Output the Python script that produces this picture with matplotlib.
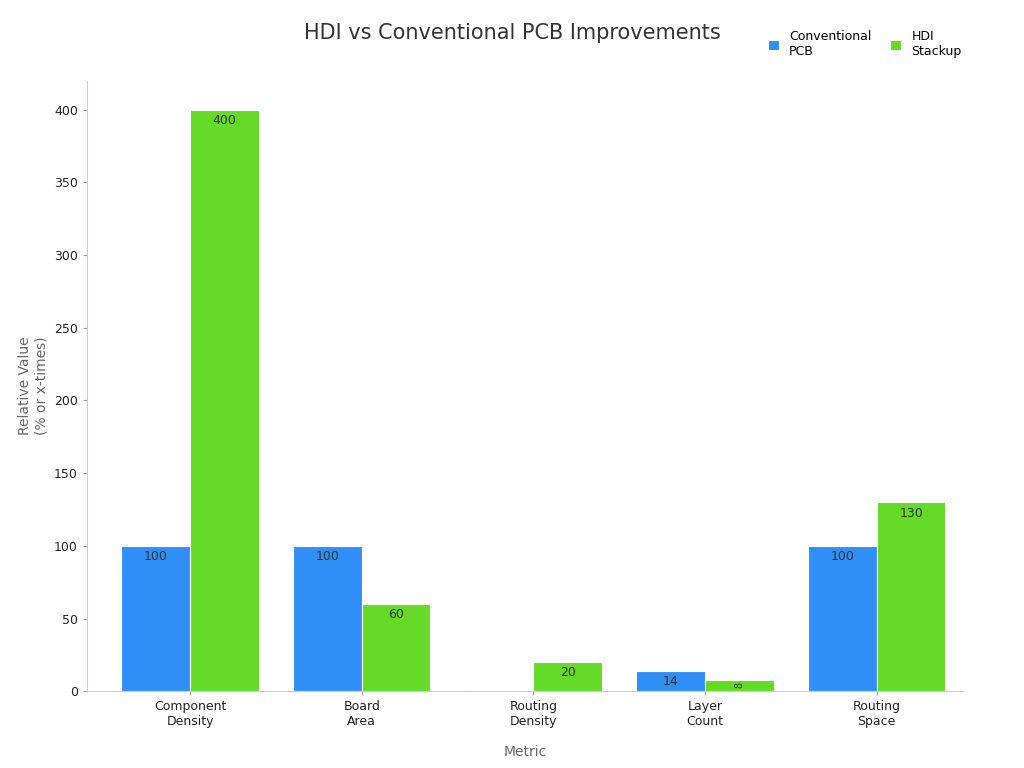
import numpy as np
import matplotlib.pyplot as plt

categories = ["Component\nDensity", "Board\nArea", "Routing\nDensity", "Layer\nCount", "Routing\nSpace"]
conventional = [100, 100, 1, 14, 100]
hdi = [400, 60, 20, 8, 130]

fig, ax = plt.subplots(figsize=(10.24, 7.68), dpi=100)
fig.subplots_adjust(left=0.085, right=0.94, top=0.895, bottom=0.1)

x = np.arange(len(categories))
w = 0.4
b1 = ax.bar(x - w / 2, conventional, w, color="#2f8ff7", edgecolor="white", linewidth=0.8, label="Conventional\nPCB")
b2 = ax.bar(x + w / 2, hdi, w, color="#66db27", edgecolor="white", linewidth=0.8, label="HDI\nStackup")

for bars, vals in ((b1, conventional), (b2, hdi)):
    for r, v in zip(bars, vals):
        if v < 5:
            continue
        cx = r.get_x() + r.get_width() / 2
        if v < 10:
            ax.text(cx, v / 2, str(v), ha="center", va="center", rotation=90, fontsize=7, color="#333333")
        else:
            ax.text(cx, v - 3, str(v), ha="center", va="top", fontsize=9, color="#333333")

ax.set_xticks(x)
ax.set_xticklabels(categories, fontsize=9, color="#222222")
ax.tick_params(axis="y", labelsize=9, colors="#222222")
ax.tick_params(axis="both", color="#999999", length=3)
ax.set_ylim(0, 420)
ax.set_xlim(-0.6, 4.5)
ax.set_yticks(range(0, 401, 50))
ax.set_xlabel("Metric", fontsize=10, color="#666666", labelpad=12)
ax.set_ylabel("Relative Value\n(% or x-times)", fontsize=10, color="#666666")
for s in ("top", "right"):
    ax.spines[s].set_visible(False)
for s in ("left", "bottom"):
    ax.spines[s].set_color("#cccccc")

fig.suptitle("HDI vs Conventional PCB Improvements", fontsize=15, color="#333333", x=0.5, y=0.97)
fig.legend(loc="upper right", bbox_to_anchor=(0.95, 0.975), ncol=2, frameon=False, fontsize=9,
           handlelength=0.9, handleheight=0.9, columnspacing=1.5)

plt.savefig("out.png", dpi=100)
